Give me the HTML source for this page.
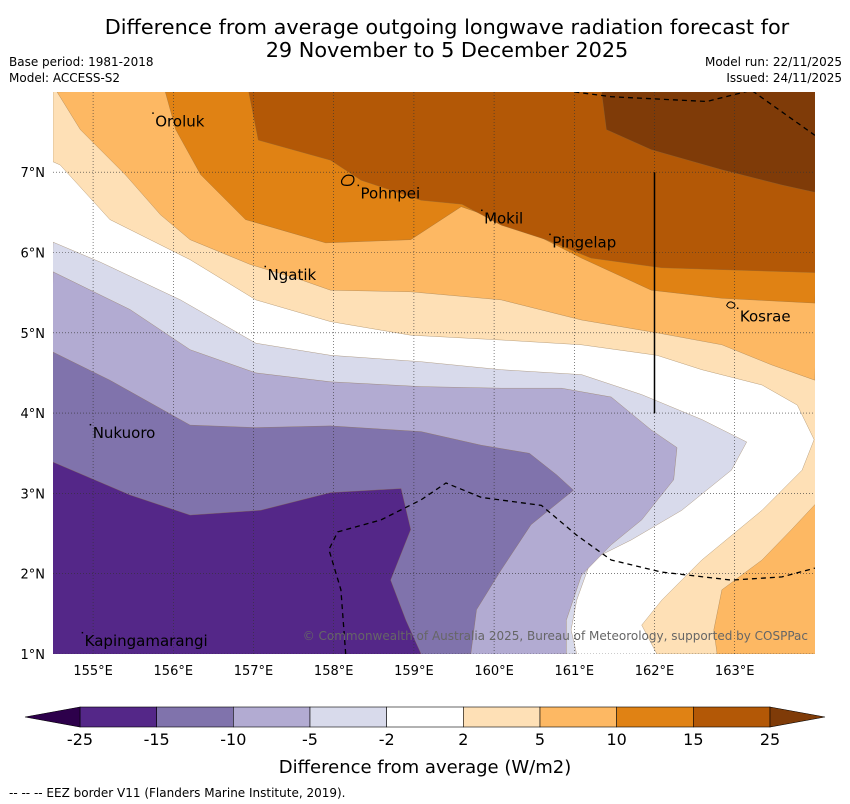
<!DOCTYPE html>
<html><head><meta charset="utf-8"><style>
html,body{margin:0;padding:0;background:#fff;}
svg{display:block;font-family:"DejaVu Sans","Liberation Sans",sans-serif;}
</style></head><body>
<svg id="chart" width="850" height="804" xmlns="http://www.w3.org/2000/svg">
<text x="447" y="34" font-size="20.8" text-anchor="middle">Difference from average outgoing longwave radiation forecast for</text>
<text x="447" y="57" font-size="20.8" text-anchor="middle">29 November to 5 December 2025</text>
<text x="9" y="66" font-size="12">Base period: 1981-2018</text>
<text x="9" y="82" font-size="12">Model: ACCESS-S2</text>
<text x="842" y="66" font-size="12" text-anchor="end">Model run: 22/11/2025</text>
<text x="842" y="82" font-size="12" text-anchor="end">Issued: 24/11/2025</text>
<defs><clipPath id="mapclip"><rect x="53" y="92" width="762" height="562"/></clipPath></defs>
<g id="map" clip-path="url(#mapclip)"></g>
<g id="over"></g>
<g id="cbar"></g>
<text x="425" y="773" font-size="18" text-anchor="middle">Difference from average (W/m2)</text>
<text x="9" y="797" font-size="12">--  --  -- EEZ border V11 (Flanders Marine Institute, 2019).</text>
</svg>
<script>
const lonTicks=[155,156,157,158,159,160,161,162,163];
const latTicks=[1,2,3,4,5,6,7];
const cbarLabels=["-25","-15","-10","-5","-2","2","5","10","15","25"];
const cbarColors=["#542788","#8073ac","#b2abd2","#d8daeb","#ffffff","#fee0b6","#fdb863","#e08214","#b35806"];
const c2=[[154.5,7.13],[154.59,7.09],[155.21,6.41],[156.21,5.91],[157.03,5.41],[157.96,5.14],[158.96,4.97],[160.09,4.91],[161.09,4.85],[162.03,4.72],[162.59,4.54],[163.34,4.35],[163.78,4.1],[163.99,3.67],[163.84,3.29],[163.34,2.79],[162.59,2.17],[162.09,1.67],[161.84,1.36],[162.03,1.0]];
const c5=[[154.55,8],[154.84,7.53],[155.4,6.97],[155.84,6.47],[156.21,6.16],[156.96,5.85],[157.59,5.66],[157.96,5.53],[158.96,5.51],[160.09,5.41],[161.09,5.16],[162.03,5.0],[162.84,4.85],[163.46,4.6],[164,4.41]];
const c5b=[[164,2.86],[163.71,2.55],[163.34,2.17],[162.84,1.8],[162.74,1.3],[162.78,1.0]];
const c10=[[155.9,8],[156.03,7.53],[156.34,6.97],[156.9,6.41],[157.9,6.12],[158.96,6.16],[159.59,6.57],[160.34,6.31],[161.09,5.93],[161.96,5.53],[162.84,5.43],[164,5.37]];
const c15=[[156.94,8],[157.06,7.4],[157.96,7.15],[158.34,6.9],[159.09,6.65],[159.6,6.6],[160.09,6.34],[160.65,6.16],[161.21,5.93],[162.09,5.81],[164,5.75]];
const c25=[[161.34,8],[161.4,7.53],[161.96,7.28],[162.84,7.03],[163.59,6.84],[164,6.75]];
const cm2=[[154.5,6.13],[155.09,5.88],[156.09,5.41],[157.03,4.87],[157.96,4.72],[159.09,4.64],[160.09,4.54],[161.09,4.48],[161.84,4.23],[162.59,3.92],[163.15,3.64],[162.96,3.29],[162.34,2.79],[161.71,2.42],[161.21,2.17],[161.03,1.67],[160.96,1.3],[161.03,1.0]];
const cm5=[[154.5,5.76],[155.46,5.29],[156.21,4.79],[157.03,4.5],[157.96,4.39],[159.09,4.33],[160.09,4.31],[160.84,4.31],[161.46,4.2],[161.96,3.79],[162.28,3.57],[162.24,3.17],[161.84,2.67],[161.46,2.36],[161.09,1.98],[160.9,1.42],[160.9,1.0]];
const cm10=[[154.5,4.76],[155.21,4.41],[156.21,3.85],[157.03,3.82],[157.96,3.84],[159.09,3.77],[159.84,3.6],[160.44,3.5],[160.78,3.23],[160.99,3.04],[160.46,2.61],[160.09,2.05],[159.78,1.55],[159.71,1.0]];
const cm15=[[154.5,3.39],[155.46,2.98],[156.21,2.73],[157.09,2.79],[157.96,3.01],[158.84,3.06],[158.96,2.55],[158.71,1.92],[158.9,1.42],[159.09,1.0]];
const eezTop=[[161,8],[161.46,7.94],[162.65,7.88],[163.21,8.02],[164,7.46]];
const eezBottom=[[158.15,1],[158.09,1.8],[157.94,2.3],[158.05,2.52],[158.59,2.67],[159.09,2.92],[159.4,3.13],[159.84,2.95],[160.59,2.85],[161.03,2.48],[161.46,2.17],[162.09,2.02],[162.96,1.92],[163.59,1.96],[164,2.07]];
const placeNames=["Oroluk","Pohnpei","Mokil","Pingelap","Ngatik","Kosrae","Nukuoro","Kapingamarangi"];
const placeLon=[155.75,158.31,159.85,160.7,157.15,163.04,154.97,154.87];
const placeLat=[7.72,6.82,6.51,6.21,5.81,5.29,3.84,1.25];

const NS="http://www.w3.org/2000/svg";
const X=l=>53+(l-154.5)*80.2;
const Y=l=>654-(l-1)*80.3;
function mk(tag,attrs,parent){const e=document.createElementNS(NS,tag);for(const k in attrs)e.setAttribute(k,attrs[k]);parent.appendChild(e);return e;}
function pts(a){return a.map(p=>X(p[0]).toFixed(1)+","+Y(p[1]).toFixed(1)).join(" ");}
const map=document.getElementById('map'),over=document.getElementById('over'),cbar=document.getElementById('cbar');
mk('rect',{x:53,y:92,width:762,height:562,fill:'#ffffff'},map);
function poly(arr,extra,fill,name){
  const p=mk('polygon',{points:pts(arr.concat(extra)),fill:fill,stroke:'#8a6a40','stroke-width':0.3},map);
  
  
}
poly([[154.5,8.1]],c2.concat([[164.1,1],[164.1,8.1]]),'#fee0b6','contour-2-to-5');
poly(c5,[[164.1,8.1]],'#fdb863','contour-5-to-10');
poly(c5b,[[164.1,1],[164.1,2.86]],'#fdb863','contour-5-to-10-south');
poly(c10,[[164.1,8.1]],'#e08214','contour-10-to-15');
poly(c15,[[164.1,8.1]],'#b35806','contour-15-to-25');
poly(c25,[[164.1,8.1]],'#7f3b08','contour-above-25');
poly(cm2,[[154.4,0.9]],'#d8daeb','contour-minus2-to-minus5');
poly(cm5,[[154.4,0.9]],'#b2abd2','contour-minus5-to-minus10');
poly(cm10,[[154.4,0.9]],'#8073ac','contour-minus10-to-minus15');
poly(cm15,[[154.4,0.9]],'#542788','contour-minus15-to-minus25');
lonTicks.forEach(l=>{const g=mk('line',{x1:X(l),x2:X(l),y1:92,y2:654,stroke:'#333','stroke-width':0.6,'stroke-dasharray':'1,2'},map);

const t=mk('text',{x:X(l),y:675,'font-size':13,'text-anchor':'middle'},over);t.textContent=l+'°E';
});
latTicks.forEach(l=>{const g=mk('line',{x1:53,x2:815,y1:Y(l),y2:Y(l),stroke:'#333','stroke-width':0.6,'stroke-dasharray':'1,2'},map);

const t=mk('text',{x:45,y:Y(l)+5,'font-size':13,'text-anchor':'end'},over);t.textContent=l+'°N';
});
[eezTop,eezBottom].forEach(a=>{const e=mk('polyline',{points:pts(a),fill:'none',stroke:'#000','stroke-width':1.3,'stroke-dasharray':'5,4'},map);
});
const vl=mk('line',{x1:X(162),x2:X(162),y1:Y(7),y2:Y(4),stroke:'#000','stroke-width':1.5},map);

const pn=mk('path',{d:`M${X(158.1)},${Y(6.9)} q3,-6 8,-5 q5,0 4,6 q-2,5 -8,4 q-5,0 -4,-5z`,fill:'none',stroke:'#000','stroke-width':1.2},map);

const ks=mk('path',{d:`M${X(162.9)},${Y(5.34)} q2,-5 6,-3 q4,2 1,5 q-4,2 -7,-2z`,fill:'none',stroke:'#000','stroke-width':1},map);

placeNames.forEach((n,i)=>{const t=mk('text',{x:X(placeLon[i])+2,y:Y(placeLat[i])+12,'font-size':15},map);t.textContent=n;

const d=mk('rect',{x:X(placeLon[i])-1,y:Y(placeLat[i])-2,width:1.5,height:1.5,fill:'#000'},map);
});
const cp=mk('text',{x:808,y:640,'font-size':12,'text-anchor':'end',fill:'#666'},map);
cp.textContent='© Commonwealth of Australia 2025, Bureau of Meteorology, supported by COSPPac';

const cx0=80,cw=(770-80)/cbarColors.length,cy=707,ch=20;
cbarColors.forEach((c,i)=>{const r=mk('rect',{x:cx0+i*cw,y:cy,width:cw,height:ch,fill:c,stroke:'#000','stroke-width':0.6},cbar);
});
const tl=mk('polygon',{points:`${cx0},${cy} 25,${cy+ch/2} ${cx0},${cy+ch}`,fill:'#2d004b',stroke:'#000','stroke-width':0.6},cbar);

const tr=mk('polygon',{points:`770,${cy} 825,${cy+ch/2} 770,${cy+ch}`,fill:'#7f3b08',stroke:'#000','stroke-width':0.6},cbar);

cbarLabels.forEach((s,i)=>{const t=mk('text',{x:cx0+i*cw,y:745,'font-size':16,'text-anchor':'middle'},cbar);t.textContent=s;
});
</script>
</body></html>
